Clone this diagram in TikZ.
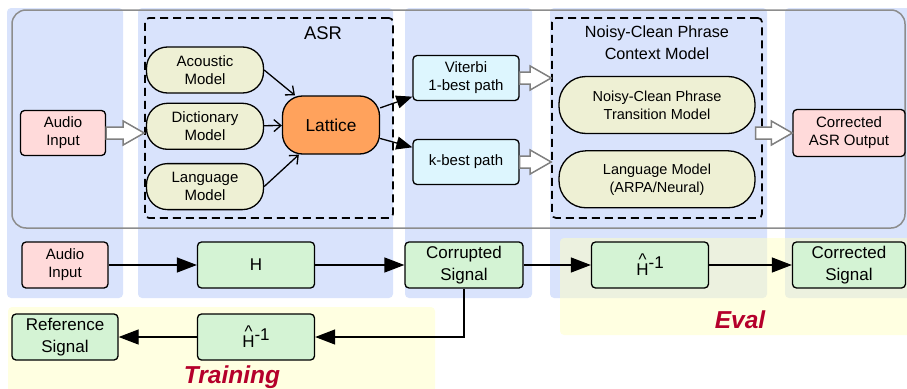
\documentclass[tikz,border=0pt]{standalone}
\usepackage{fontspec}
\setmainfont{Liberation Sans}
\usepackage{tikz}
\usetikzlibrary{arrows.meta, positioning, calc}
\definecolor{panelblue}{RGB}{217,227,252}
\definecolor{paleyellow}{RGB}{255,255,196}
\definecolor{inputpink}{RGB}{255,218,218}
\definecolor{signalgreen}{RGB}{212,243,212}
\definecolor{pathcyan}{RGB}{221,246,254}
\definecolor{modelbeige}{RGB}{238,240,212}
\definecolor{latticeorange}{RGB}{255,162,92}
\definecolor{labelred}{RGB}{181,0,43}
\definecolor{hollowgray}{RGB}{128,128,128}
\newcommand{\hinv}{\rlap{\raisebox{0.6em}{\hspace{0.13em}\char`\^}}H\raisebox{0.45em}{-1}}

\begin{document}
\begin{tikzpicture}[x=1pt, y=-1pt, font=\fontsize{15}{18}\selectfont,
    panel/.style={fill=panelblue, rounded corners=4pt},
    zone/.style={fill=paleyellow, fill opacity=0.5, rounded corners=4pt},
    block/.style={rectangle, draw, line width=1.3pt, rounded corners=4pt, align=center, inner sep=0pt, minimum height=46pt},
    inputbox/.style={block, fill=inputpink},
    signalbox/.style={block, fill=signalgreen, minimum width=117pt, font=\fontsize{17}{22}\selectfont},
    pathbox/.style={block, fill=pathcyan, minimum width=106pt, minimum height=45pt},
    model/.style={block, fill=modelbeige, rounded corners=21pt, minimum width=117pt},
    bigmodel/.style={model, rounded corners=27pt, minimum width=196pt, minimum height=57pt, font=\fontsize{14.5}{18}\selectfont},
    groupbox/.style={draw, line width=1.7pt, rounded corners=4pt, dash pattern=on 8pt off 5pt, minimum height=200pt, inner sep=0pt},
    arrow/.style={-{Triangle[length=20pt, width=15pt]}, line width=1.3pt},
    feed/.style={-{Straight Barb[length=7pt, width=12pt]}, line width=1.3pt},
    branch/.style={-{Triangle[length=16pt, width=13pt]}, line width=1.3pt},
    hollow/.style={draw=hollowgray, fill=white, line width=1.5pt, line join=miter,
      to path={let \p1=(\tikztostart), \p2=(\tikztotarget) in
        (\x1,\y1-6pt) -- (\x2-21pt,\y1-6pt) -- (\x2-21pt,\y1-12pt) -- (\x2,\y1) --
        (\x2-21pt,\y1+12pt) -- (\x2-21pt,\y1+6pt) -- (\x1,\y1+6pt) -- cycle}},
    stage/.style={font=\fontsize{24.5}{28}\selectfont\bfseries\itshape, text=labelred}]

    \useasboundingbox (0,0) rectangle (907,388);

    \fill[panel] (7,8) rectangle (123,298);
    \fill[panel] (138,8) rectangle (393,298);
    \fill[panel] (405,8) rectangle (532,298);
    \fill[panel] (550,8) rectangle (767,298);
    \fill[panel] (785,8) rectangle (915,298);
    \fill[zone] (8,307) rectangle (435,396);
    \fill[zone] (560,238) rectangle (915,335);
    \draw[hollowgray!90, line width=1.5pt, rounded corners=14pt] (12,10) rectangle (905,228);

    \node[groupbox, minimum width=248pt] (asr) at (269,118) {};
    \node[groupbox, minimum width=210pt] (nc) at (657,118) {};
    \node[font=\fontsize{18.4}{22}\selectfont] (asrlabel) at (323,33) {ASR};
    \node[align=center, font=\fontsize{16.2}{22}\selectfont] (nclabel) at (657,43) {Noisy-Clean Phrase\\Context Model};

    \node[inputbox, minimum width=85pt, minimum height=45pt] (audio) at (63,133) {Audio\\Input};
    \node[model] (acoustic) at (205,70) {Acoustic\\Model};
    \node[model, below=9pt of acoustic] (dict) {Dictionary\\Model};
    \node[model, below=13pt of dict] (lang) {Language\\Model};
    \node[block, fill=latticeorange, rounded corners=20pt, minimum width=97pt, minimum height=58pt, font=\fontsize{17.3}{20}\selectfont] (lattice) at (331,125) {Lattice};
    \node[pathbox] (viterbi) at (466,78) {Viterbi\\1-best path};
    \node[pathbox] (kbest) at (466,162) {k-best path};
    \node[bigmodel] (trans) at (657,105) {Noisy-Clean Phrase\\Transition Model};
    \node[bigmodel, below=16pt of trans] (lmodel) {Language Model\\(ARPA/Neural)};
    \node[inputbox, minimum width=112pt, minimum height=47pt] (corrasr) at (849,133) {Corrected\\ASR Output};

    \draw[feed] (acoustic.east) -- (lattice);
    \draw[feed] (dict) -- (lattice);
    \draw[feed] (lang.east) -- (lattice);
    \draw[branch] (lattice) -- (viterbi);
    \draw[branch] (lattice) -- (kbest);

    \draw[hollow] (audio.east) to (audio.east -| asr.west);
    \draw[hollow] (viterbi.east) to (viterbi.east -| nc.west);
    \draw[hollow] (kbest.east) to (kbest.east -| nc.west);
    \draw[hollow] (corrasr.west -| trans.east) to (corrasr.west);

    \node[inputbox, minimum width=86pt] (audio2) at (65,265) {Audio\\Input};
    \node[signalbox] (hfwd) at (256,265) {H};
    \node[signalbox, minimum width=118pt] (corrupt) at (464,265) {Corrupted\\Signal};
    \node[signalbox] (hinveval) at (650,265) {\hinv};
    \node[signalbox, minimum width=113pt] (corrsig) at (849,265) {Corrected\\Signal};
    \node[signalbox] (hinvtrain) at (256,337) {\hinv};
    \node[signalbox, minimum width=106pt] (refsig) at (65,337) {Reference\\Signal};

    \draw[arrow] (audio2) -- (hfwd);
    \draw[arrow] (hfwd) -- (corrupt);
    \draw[arrow] (corrupt) -- (hinveval);
    \draw[arrow] (hinveval) -- (corrsig);
    \draw[arrow] (corrupt.south) |- (hinvtrain);
    \draw[arrow] (hinvtrain) -- (refsig);

    \node[stage] (training) at (232,377) {Training};
    \node[stage] (eval) at (740,320) {Eval};
\end{tikzpicture}
\end{document}
